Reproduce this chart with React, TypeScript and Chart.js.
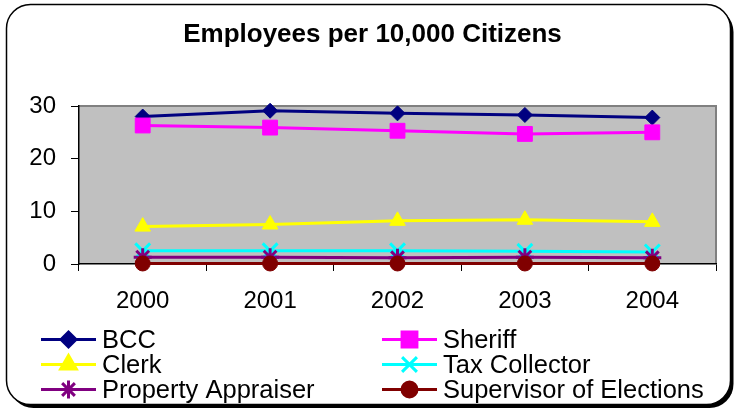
import React, { useEffect, useRef } from 'react';
import { Chart, registerables } from 'chart.js';
import { drawPoint } from 'chart.js/helpers';

Chart.register(...registerables);

const chartTitle = 'Employees per 10,000 Citizens';
const categories = ['2000', '2001', '2002', '2003', '2004'];
const seriesNames = ['BCC', 'Sheriff', 'Clerk', 'Tax Collector', 'Property Appraiser', 'Supervisor of Elections'];
const bcc = [28.0, 29.1, 28.6, 28.3, 27.8];
const sheriff = [26.3, 25.9, 25.3, 24.7, 25.0];
const clerk = [7.1, 7.5, 8.2, 8.4, 8.0];
const taxCollector = [2.5, 2.5, 2.5, 2.4, 2.3];
const propertyAppraiser = [1.3, 1.3, 1.2, 1.3, 1.2];
const supervisorOfElections = [0.1, 0.1, 0.1, 0.1, 0.1];
const yMin = 0;
const yMax = 30;
const yStep = 10;

const seriesValues = [bcc, sheriff, clerk, taxCollector, propertyAppraiser, supervisorOfElections];
const seriesColors = ['#000080', '#FF00FF', '#FFFF00', '#00FFFF', '#800080', '#800000'];
const seriesPointStyles = ['rectRot', 'rect', 'triangle', 'crossRot', 'star', 'circle'];
const seriesRadii = [7.5, 10.5, 9, 10.5, 9, 7.5];

const FONT = '"Liberation Sans", Arial, Helvetica, sans-serif';

const W = 735;
const H = 411;

const framePlugin = {
  id: 'frame',
  beforeDraw(chart: any) {
    const ctx = chart.ctx;
    const { left, top, right, bottom } = chart.chartArea;
    ctx.save();
    ctx.fillStyle = '#ffffff';
    ctx.fillRect(0, 0, W, H);
    const x0 = 6.5, y0 = 4.5, x1 = 730.5, y1 = 404.5, r = 24;
    ctx.fillStyle = '#000000';
    ctx.beginPath();
    ctx.roundRect(x0 + 3, y0 + 3.5, x1 - x0, y1 - y0, r);
    ctx.fill();
    ctx.fillStyle = '#ffffff';
    ctx.beginPath();
    ctx.roundRect(x0, y0, x1 - x0, y1 - y0, r);
    ctx.fill();
    ctx.lineWidth = 1.5;
    ctx.strokeStyle = '#000000';
    ctx.stroke();
    ctx.fillStyle = '#C0C0C0';
    ctx.fillRect(left, top, right - left, bottom - top);
    ctx.strokeStyle = '#808080';
    ctx.lineWidth = 2;
    ctx.beginPath();
    ctx.moveTo(left, top);
    ctx.lineTo(right, top);
    ctx.lineTo(right, bottom);
    ctx.stroke();
    ctx.fillStyle = '#000000';
    ctx.font = `bold 26px ${FONT}`;
    ctx.textAlign = 'center';
    ctx.textBaseline = 'middle';
    ctx.fillText(chartTitle, 372.5, 35);
    ctx.restore();
  },
  afterDraw(chart: any) {
    const ctx = chart.ctx;
    const colX = [41, 382];
    const rowY = [339.5, 364.5, 389.5];
    ctx.save();
    chart.data.datasets.forEach((ds: any, i: number) => {
      const x = colX[i % 2];
      const y = rowY[Math.floor(i / 2)];
      ctx.strokeStyle = ds.borderColor;
      ctx.lineWidth = 3;
      ctx.beginPath();
      ctx.moveTo(x, y);
      ctx.lineTo(x + 55, y);
      ctx.stroke();
      ctx.fillStyle = ds.pointBackgroundColor;
      ctx.strokeStyle = ds.pointBorderColor;
      drawPoint(ctx, {
        pointStyle: ds.pointStyle,
        radius: ds.pointRadius,
        borderWidth: ds.pointBorderWidth,
        rotation: 0,
      }, x + 27.5, y);
      ctx.fillStyle = '#000000';
      ctx.font = `25.5px ${FONT}`;
      ctx.textAlign = 'left';
      ctx.textBaseline = 'middle';
      ctx.fillText(ds.label, x + 61, y + 1);
    });
    ctx.restore();
  },
};

export default function App() {
  const ref = useRef<HTMLCanvasElement>(null);
  useEffect(() => {
    document.body.style.margin = '0';
    const canvas = ref.current!;
    const datasets = seriesNames.map((name, i) => ({
      label: name,
      data: seriesValues[i],
      borderColor: seriesColors[i],
      backgroundColor: seriesColors[i],
      pointBackgroundColor: seriesColors[i],
      pointBorderColor: seriesColors[i],
      pointStyle: seriesPointStyles[i],
      pointRadius: seriesRadii[i],
      pointBorderWidth: seriesPointStyles[i] === 'crossRot' || seriesPointStyles[i] === 'star' ? 3 : 1,
      borderWidth: 3,
      tension: 0,
      fill: false,
      clip: false as any,
      order: seriesNames.length - i,
    }));
    const chart = new Chart(canvas, {
      type: 'line',
      data: { labels: categories, datasets },
      options: {
        responsive: false,
        animation: false,
        devicePixelRatio: 1,
        layout: { padding: { left: 0, top: 106, right: 19, bottom: 87 } },
        plugins: {
          legend: { display: false },
          title: { display: false },
          tooltip: { enabled: false },
        },
        scales: {
          x: {
            offset: true,
            afterFit(scale: any) { scale.height = 60; },
            grid: {
              offset: true,
              drawOnChartArea: false,
              drawTicks: true,
              tickLength: 7,
              color: '#000000',
            },
            border: { color: '#000000', width: 1.5 },
            ticks: {
              color: '#000000',
              font: { family: FONT, size: 24 },
              padding: 16,
              maxRotation: 0,
            },
          },
          y: {
            min: yMin,
            max: yMax,
            afterFit(scale: any) { scale.width = 79; },
            grid: {
              drawOnChartArea: false,
              drawTicks: true,
              tickLength: 8,
              color: '#000000',
            },
            border: { color: '#000000', width: 1.5 },
            ticks: {
              stepSize: yStep,
              color: '#000000',
              font: { family: FONT, size: 24 },
              padding: 15,
            },
          },
        },
      },
      plugins: [framePlugin],
    });
    return () => chart.destroy();
  }, []);
  return (
    <div style={{ width: W, height: H }}>
      <canvas ref={ref} width={W} height={H} style={{ display: 'block' }} />
    </div>
  );
}
